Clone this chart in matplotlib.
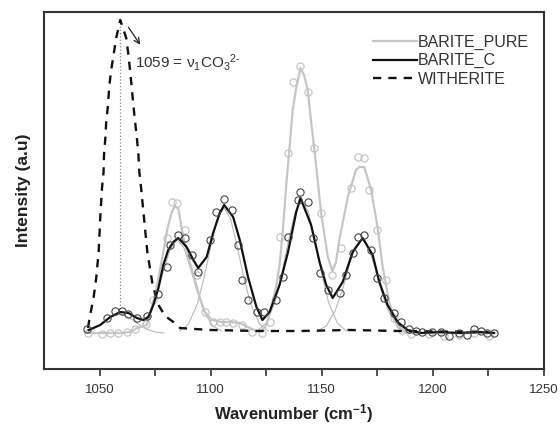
import matplotlib
matplotlib.use("Agg")
import matplotlib.pyplot as plt

plt.rcParams['font.family'] = ['Liberation Sans', 'DejaVu Sans']
plt.rcParams['mathtext.fontset'] = 'custom'
plt.rcParams['mathtext.rm'] = 'Liberation Sans'
plt.rcParams['mathtext.it'] = 'Liberation Sans:italic'
plt.rcParams['mathtext.bf'] = 'Liberation Sans:bold'

# BARITE_PURE fitted line
pure_x = [1044, 1050, 1055, 1060, 1064, 1066.8, 1071.3, 1075.0, 1077.2, 1078.7, 1080.6, 1082.5,
          1084.0, 1085.5, 1087.6, 1090.7, 1092.9, 1095.2, 1097.4, 1100.5, 1105, 1109.5, 1113.1,
          1116.7, 1120.3, 1123, 1125.1, 1127, 1129.6, 1131, 1132.5, 1134, 1135.5, 1136.9, 1138.5,
          1140.4, 1142, 1143.7, 1145.1, 1146.7, 1149.7, 1152.7, 1154.8, 1156.4, 1157.9, 1161.7,
          1165.4, 1166.9, 1169.1, 1172.2, 1175.1, 1177.4, 1180.4, 1184.1, 1187.8, 1195, 1205, 1215, 1228]
pure_y = [0, 0, 0, 0, 1, 5, 8, 38, 63, 81, 105, 121,
          127, 124, 96, 70, 53, 35, 21, 13, 11, 11, 10,
          6, 2, 2, 8, 23, 48, 68, 103, 148, 186, 223, 245,
          265, 258, 243, 213, 183, 120, 76, 62, 71, 93, 136,
          163, 166, 166, 143, 106, 66, 30, 6, 0, 0, 0, 0, 0]

# BARITE_PURE data points
pure_px = [1044.9, 1051.1, 1054.8, 1058.5, 1062.3, 1066.0, 1070.9, 1074.2, 1080.2, 1082.5, 1084.7,
           1088.4, 1093.7, 1097.4, 1101.1, 1104.1, 1107.1, 1110.1, 1114, 1118.5, 1123, 1126.5,
           1131, 1134.8, 1137, 1140.4, 1143.7, 1146.7, 1149.7, 1154.8, 1158.8, 1163.2, 1166.1,
           1169.1, 1171.3, 1174.9, 1178.9, 1182.6, 1186.2, 1190.2, 1198.3, 1205, 1211.8, 1218.5, 1225.3]
pure_py = [0, -1, 0, 0, 1, 4, 9, 33, 95, 131, 130,
           103, 58, 21, 11, 11, 11, 10, 8, 1, 0, 11,
           96, 180, 251, 267, 241, 185, 120, 58, 85, 145, 176,
           175, 143, 103, 53, 15, 3, -1, -1, -3, -2, 0, -3]

# BARITE_C fitted line
c_x = [1045.1, 1050.3, 1054.8, 1059.3, 1063.0, 1066.8, 1069.7, 1072.0, 1074.2, 1076.5, 1078.7,
       1080.9, 1083.2, 1085.4, 1089.2, 1092.2, 1094.4, 1098.2, 1101.1, 1104.1, 1106.1, 1110.1,
       1113.1, 1116.8, 1120.6, 1123.3, 1126.5, 1131.0, 1134.8, 1138.5, 1140.4, 1145.2, 1149.0,
       1152.0, 1154.9, 1159.4, 1163.9, 1168.4, 1172.9, 1175.9, 1179.6, 1184.1, 1188.6, 1194.6,
       1202.8, 1211.8, 1220.7, 1227.4]
c_y = [3, 8, 16, 21, 20, 15, 13, 16, 28, 45, 68,
       83, 91, 95, 86, 73, 65, 76, 100, 120, 128, 116,
       93, 56, 26, 13, 21, 48, 81, 121, 135, 108, 71,
       48, 35, 51, 81, 95, 78, 51, 28, 11, 3, 0,
       1, 0, 1, 0]

# BARITE_C data points
c_px = [1044.3, 1053.3, 1057.0, 1060.0, 1063.0, 1066.8, 1071.3, 1076.5, 1080.5, 1081.7, 1085.4,
        1088.4, 1091.6, 1094.4, 1099.6, 1102.6, 1105.9, 1109.4, 1112.3, 1113.9, 1116.8, 1120.9,
        1123.9, 1129.6, 1132.5, 1134.8, 1139.2, 1140.4, 1143.7, 1145.9, 1149.0, 1152.6, 1158.0,
        1161.0, 1163.9, 1166.1, 1169.1, 1172.1, 1174.8, 1178.1, 1182.6, 1185.6, 1189.3, 1192.3,
        1195.3, 1199.8, 1203.5, 1207.3, 1211.8, 1215.5, 1218.5, 1221.5, 1224.4, 1227.4]
c_py = [4, 15, 22, 22, 19, 15, 17, 39, 66, 88, 98,
        95, 78, 61, 93, 121, 134, 123, 88, 53, 33, 21,
        21, 33, 56, 96, 133, 141, 131, 95, 60, 43, 40,
        58, 80, 96, 98, 83, 55, 35, 20, 11, 4, 2,
        1, 1, 1, -3, 0, -2, 4, 2, 0, 0]

# WITHERITE
w_x = [1044.8, 1045.5, 1047.3, 1048.5, 1049.6, 1050.3, 1051.1, 1051.8, 1052.0, 1052.6, 1053.0,
       1053.8, 1054.3, 1055.1, 1056.3, 1057.5, 1059.3, 1062.0, 1063.0, 1063.8, 1064.5, 1065.2,
       1066.0, 1066.8, 1067.5, 1067.9, 1068.7, 1070.0, 1071.5, 1073.9, 1076.5, 1079.5, 1083.2,
       1086.2, 1099.6, 1122, 1140, 1162.3, 1184.8, 1202.7, 1225]
w_y = [5, 15, 35, 55, 81, 115, 145, 161, 178, 195, 211,
       228, 245, 261, 278, 295, 313, 295, 278, 261, 245, 228,
       211, 195, 178, 161, 145, 115, 81, 48, 28, 17, 11,
       5, 3, 2, 2, 3, 2, 1.5, 1]

# fitted components of BARITE_C (thin grey)
comp_x = [
    [1043, 1047, 1050, 1053, 1056, 1059, 1062, 1065, 1068, 1071, 1075, 1079],
    [1069, 1073, 1076, 1079, 1082, 1085, 1088, 1091, 1094, 1097, 1101, 1105],
    [1086, 1090, 1094, 1097, 1100, 1103, 1106, 1109, 1112, 1115, 1118, 1122, 1126],
    [1121, 1125, 1129, 1132, 1135, 1138, 1141, 1144, 1147, 1150, 1153, 1157, 1161],
    [1148, 1152, 1156, 1159, 1162, 1165, 1168, 1171, 1174, 1177, 1180, 1184, 1188],
]
comp_y = [
    [1, 4, 8, 13, 17, 19, 17, 13, 8, 4, 1, 0],
    [7, 21, 41, 64, 85, 93, 85, 64, 41, 21, 7, 2],
    [2, 9, 29, 55, 86, 114, 125, 114, 86, 55, 29, 9, 2],
    [2, 10, 31, 59, 92, 121, 133, 121, 92, 59, 31, 10, 2],
    [2, 7, 22, 41, 65, 86, 94, 86, 65, 41, 22, 7, 2],
]

fig = plt.figure(figsize=(5.6, 4.28), dpi=100)
ax = fig.add_axes([44 / 560, 59 / 428, 500 / 560, 357 / 428])

for cx, cy in zip(comp_x, comp_y):
    ax.plot(cx, cy, color='#b8b8b8', lw=0.8, zorder=1)

ax.plot(pure_x, pure_y, color='#c6c6c6', lw=1.6, zorder=2, label='BARITE_PURE')
ax.plot(pure_px, pure_py, 'o', mfc='none', mec='#c0c0c0', ms=5.2, mew=0.8, zorder=2)
ax.plot(w_x, w_y, color='#111111', lw=1.7, dashes=(3.5, 3), zorder=3, label='WITHERITE')
ax.plot(c_x, c_y, color='#111111', lw=1.6, zorder=4, label='BARITE_C')
ax.plot(c_px, c_py, 'o', mfc='none', mec='#444444', ms=5.2, mew=0.8, zorder=4)

ax.plot([1059.3, 1059.3], [21, 308], color='#888888', lw=0.9, ls=':', zorder=1)
ax.annotate('', xy=(1069.0, 286), xytext=(1062.3, 308),
            arrowprops=dict(arrowstyle='->', color='#222222', lw=0.9))
ax.text(1066.0, 265, r'1059 = ν$_1$CO$_3$$^{2\mathbf{\text{-}}}$', fontsize=11, color='#333333')

ax.set_xlim(1025, 1250)
ax.set_ylim(-36, 321)
ax.set_xticks([1050, 1100, 1150, 1200, 1250])
ax.set_xticks([1075, 1125, 1175, 1225], minor=True)
ax.set_yticks([])
ax.tick_params(axis='x', which='both', direction='out', length=5, width=1.2,
               colors='#333333', labelsize=9.5, pad=6)
for s in ax.spines.values():
    s.set_linewidth(1.5)
    s.set_color('#333333')

ax.set_xlabel(r'Wavenumber (cm$^{\mathbf{-1}}$)', fontsize=12, fontweight='bold',
              color='#222222', labelpad=4)
ax.set_ylabel('Intensity (a.u)', fontsize=12.5, fontweight='bold', color='#222222', labelpad=9)

h, l = ax.get_legend_handles_labels()
order = [l.index('BARITE_PURE'), l.index('BARITE_C'), l.index('WITHERITE')]
leg = ax.legend([h[i] for i in order], [l[i] for i in order], loc='upper left',
                bbox_to_anchor=(372.7 / 560, (428 - 35) / 428), bbox_transform=fig.transFigure,
                frameon=False, fontsize=11.5, handlelength=2.75, handletextpad=0.1,
                labelspacing=0.2, borderpad=0, borderaxespad=0)
for t in leg.get_texts():
    t.set_color('#333333')

fig.savefig('out.png', dpi=100)
